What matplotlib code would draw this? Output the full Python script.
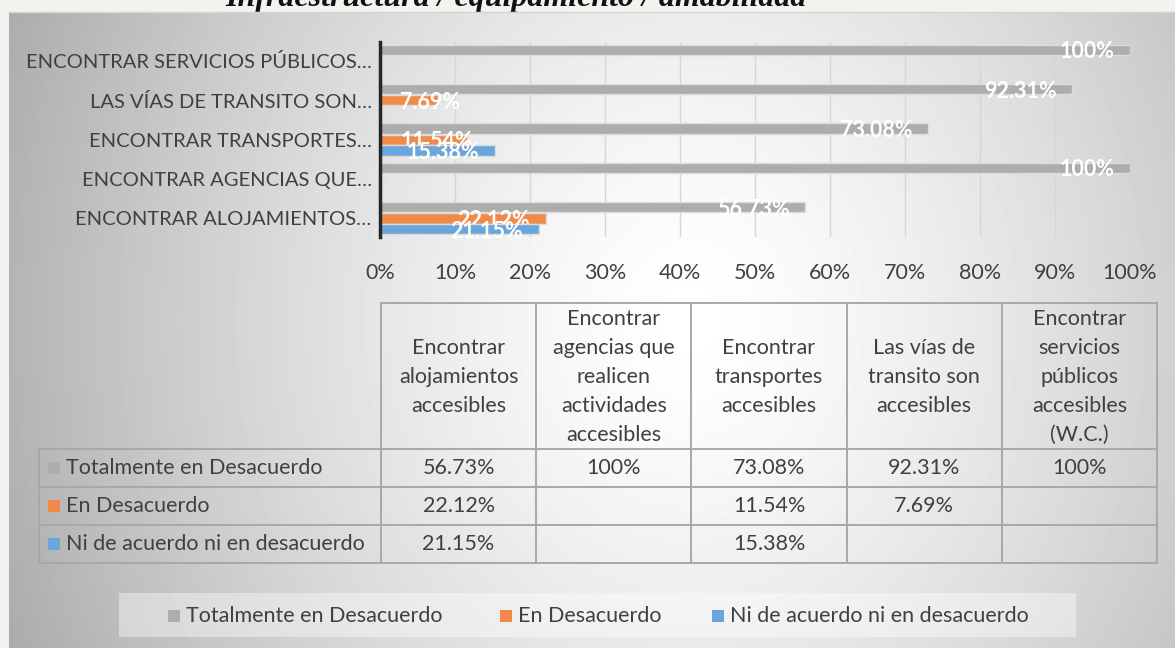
import numpy as np
import matplotlib
matplotlib.use("Agg")
import matplotlib.pyplot as plt
from matplotlib.patches import Rectangle

# ---------------- data ----------------
categories = ["ENCONTRAR ALOJAMIENTOS…", "ENCONTRAR AGENCIAS QUE…",
              "ENCONTRAR TRANSPORTES…", "LAS VÍAS DE TRANSITO SON…",
              "ENCONTRAR SERVICIOS PÚBLICOS…"]
table_headers = ["Encontrar\nalojamientos\naccesibles",
                 "Encontrar\nagencias que\nrealicen\nactividades\naccesibles",
                 "Encontrar\ntransportes\naccesibles",
                 "Las vías de\ntransito son\naccesibles",
                 "Encontrar\nservicios\npúblicos\naccesibles\n(W.C.)"]
series_names = ["Totalmente en Desacuerdo", "En Desacuerdo",
                "Ni de acuerdo ni en desacuerdo"]
totalmente = [56.73, 100, 73.08, 92.31, 100]
en_desacuerdo = [22.12, None, 11.54, 7.69, None]
ni_ni = [21.15, None, 15.38, None, None]
x_ticks = [0, 10, 20, 30, 40, 50, 60, 70, 80, 90, 100]
title = "Infraestructura / equipamiento / amabilidad"

series_values = [totalmente, en_desacuerdo, ni_ni]
colors = ["#ADADAD", "#F08A48", "#6AA6DC"]
offsets = [0.285, 0.0, -0.275]
bar_h = 0.26

W, H = 1175, 648
FONT = "Lato"
TXT = "#404040"
plt.rcParams["font.family"] = [FONT, "DejaVu Sans"]
FS_Y = 14.5
FS_T = 15.5

fig = plt.figure(figsize=(W / 100, H / 100), dpi=100)
fig.patch.set_facecolor("#f4f2ef")

# background / overlay axes in pixel coordinates
bg = fig.add_axes([0, 0, 1, 1], zorder=0)
bg.set_xlim(0, W)
bg.set_ylim(H, 0)
bg.axis("off")

# title (cut by top of image)
bg.text(225, 6, title, family="Liberation Serif", fontsize=23,
        fontweight="bold", fontstyle="italic", ha="left", va="baseline",
        color="#111111", zorder=1)

# gradient frame
fx0, fy0 = 9, 12
xx, yy = np.meshgrid(np.arange(fx0, W), np.arange(fy0, H))
r = np.sqrt(((xx - 690) / 620.0) ** 2 + ((yy - 320) / 720.0) ** 2)
v = 255 - 66 * np.clip(r, 0, 1.3) ** 1.4
img = np.clip(v, 0, 255) / 255.0
bg.imshow(img, cmap="gray", vmin=0, vmax=1, extent=[fx0, W, H, fy0],
          aspect="auto", zorder=2, interpolation="bilinear")
bg.plot([fx0, W], [fy0, fy0], color="#d4d4d4", lw=1, zorder=3)
bg.set_xlim(0, W)
bg.set_ylim(H, 0)

# ---------------- bar chart ----------------
ax = fig.add_axes([380 / W, 1 - 237 / H, 750 / W, 195 / H], zorder=2)
ax.set_facecolor("none")
ax.set_xlim(0, 100)
ax.set_ylim(-0.47, 4.48)
ypos = np.arange(len(categories))

for k, (vals, col, off) in enumerate(zip(series_values, colors, offsets)):
    ys = [y + off for y, val in zip(ypos, vals) if val is not None]
    vs = [val for val in vals if val is not None]
    ax.barh(ys, vs, height=bar_h, color=col, edgecolor="#dcdcdc",
            linewidth=1.0, zorder=3 + 2 * k)
    for y, val in zip(ys, vs):
        lbl = f"{val:g}%"
        if val < 14:
            ax.text(2.7, y - 0.05, lbl, ha="left", va="center", color="white",
                    fontsize=15.5, fontweight="bold", zorder=4 + 2 * k)
        else:
            ax.text(val - 2.1, y - 0.05, lbl, ha="right", va="center",
                    color="white", fontsize=15.5, fontweight="bold",
                    zorder=4 + 2 * k)

ax.set_yticks(ypos)
ax.set_yticklabels(categories, fontsize=FS_Y, color=TXT)
ax.set_xticks(x_ticks)
ax.set_xticklabels([f"{t}%" for t in x_ticks], fontsize=FS_T, color=TXT)
ax.tick_params(axis="both", length=0)
ax.tick_params(axis="y", pad=6)
ax.tick_params(axis="x", pad=19)
ax.grid(axis="x", color="#d6d6d6", lw=1, zorder=1)
for s in ["top", "right", "bottom"]:
    ax.spines[s].set_visible(False)
ax.spines["left"].set_color("#262626")
ax.spines["left"].set_linewidth(2.5)
ax.spines["left"].set_zorder(10)

# ---------------- data table ----------------
lc = "#a8a8a8"
lw = 1.4
col_x = np.linspace(381, 1157, len(table_headers) + 1)
row_y = [303, 449, 487, 525, 563]
lbl_x0 = 39
ov = bg
ov.plot([col_x[0], col_x[-1]], [row_y[0], row_y[0]], color=lc, lw=lw, zorder=5)
for cx in col_x:
    ov.plot([cx, cx], [row_y[0], row_y[-1]], color=lc, lw=lw, zorder=5)
for ry in row_y[1:]:
    ov.plot([lbl_x0, col_x[-1]], [ry, ry], color=lc, lw=lw, zorder=5)
ov.plot([lbl_x0, lbl_x0], [row_y[1], row_y[-1]], color=lc, lw=lw, zorder=5)

for j, hdr in enumerate(table_headers):
    ov.text((col_x[j] + col_x[j + 1]) / 2, (row_y[0] + row_y[1]) / 2 + 1, hdr,
            ha="center", va="center", fontsize=FS_T, color=TXT,
            linespacing=1.56, zorder=6)

for i, (name, vals, col) in enumerate(zip(series_names, series_values, colors)):
    cy = (row_y[i + 1] + row_y[i + 2]) / 2
    ov.add_patch(Rectangle((48, cy - 6), 12, 12, facecolor=col,
                           edgecolor="none", zorder=6))
    ov.text(66, cy, name, ha="left", va="center", fontsize=FS_T, color=TXT,
            zorder=6)
    for j, val in enumerate(vals):
        if val is not None:
            ov.text((col_x[j] + col_x[j + 1]) / 2, cy, f"{val:g}%",
                    ha="center", va="center", fontsize=FS_T, color=TXT,
                    zorder=6)

# ---------------- legend ----------------
ov.add_patch(Rectangle((119, 593), 957, 44, facecolor="white", alpha=0.4,
                       edgecolor="none", zorder=5))
leg_sq_x = [168, 500, 712]
for name, col, sx in zip(series_names, colors, leg_sq_x):
    ov.add_patch(Rectangle((sx, 610), 12, 12, facecolor=col,
                           edgecolor="none", zorder=6))
    ov.text(sx + 18, 616, name, ha="left", va="center", fontsize=FS_T,
            color=TXT, zorder=6)

fig.savefig("out.png", dpi=100, facecolor=fig.get_facecolor())
